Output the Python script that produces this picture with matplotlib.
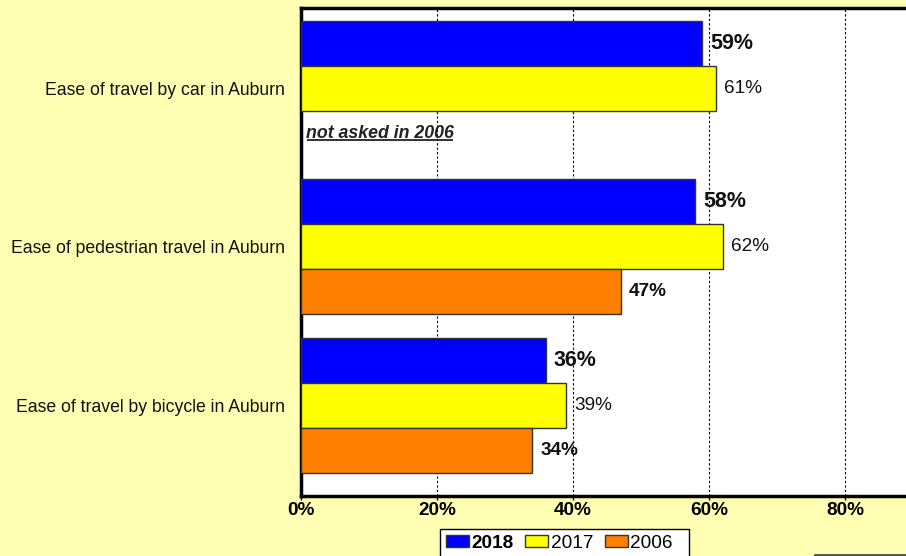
import numpy as np
import matplotlib.pyplot as plt
from matplotlib.patches import Rectangle

plt.rcParams['font.family'] = ['Liberation Sans', 'DejaVu Sans']

# Survey results, share answering good/excellent
categories = ['Ease of travel by car in Auburn',
              'Ease of pedestrian travel in Auburn',
              'Ease of travel by bicycle in Auburn']
years = ['2018', '2017', '2006']
vals_2018 = [0.59, 0.58, 0.36]
vals_2017 = [0.61, 0.62, 0.39]
vals_2006 = [None, 0.47, 0.34]   # car item not asked in 2006
colors = ['#0000FF', '#FFFF00', '#FF8000']
xticks = [0, 0.2, 0.4, 0.6, 0.8]
bg = '#FFFFB3'

fig = plt.figure(figsize=(9.06, 5.56), dpi=100, facecolor=bg)
# plot area runs to 100% past the right edge of the image
ax = fig.add_axes([301 / 906, 1 - 496 / 556, 680 / 906, 488.5 / 556])
ax.set_facecolor('white')
ax.set_xlim(0, 1.0)
ax.set_ylim(2.571, -0.508)

y = np.arange(len(categories))
h = 0.284
offsets = [-h, 0, h]
series = [vals_2018, vals_2017, vals_2006]
label_font = [dict(fontsize=15.5, fontweight='bold'),
              dict(fontsize=13.7, fontweight='normal'),
              dict(fontsize=13.7, fontweight='bold')]

for s, (vals, off, col, fnt) in enumerate(zip(series, offsets, colors, label_font)):
    for i, v in enumerate(vals):
        if v is None:
            continue
        ax.barh(y[i] + off, v, height=h, color=col, edgecolor='#333333',
                linewidth=1.0, zorder=3, label=years[s] if i == 1 else None)
        ax.annotate('{:.0f}%'.format(v * 100), xy=(v, y[i] + off),
                    xytext=(8, 0), textcoords='offset pixels',
                    ha='left', va='center', color='#111111', zorder=4, **fnt)

ax.set_xlim(0, 1.0)
ax.set_ylim(2.571, -0.508)

# note for the car item, underlined
t = ax.text(0.007, y[0] + h, 'not asked in 2006', ha='left', va='center',
            fontsize=12.8, fontweight='bold', fontstyle='italic',
            color='#222222', zorder=4)
fig.canvas.draw()
bb = t.get_window_extent()
ul_y = bb.y0 + 1.5
x0, y0 = ax.transData.inverted().transform((bb.x0 + 1, ul_y))
x1, _ = ax.transData.inverted().transform((bb.x1 - 1, ul_y))
ax.plot([x0, x1], [y0, y0], color='#222222', lw=1.3, zorder=4,
        solid_capstyle='butt')
ax.set_xlim(0, 1.0)
ax.set_ylim(2.571, -0.508)

ax.set_yticks(y)
ax.set_yticklabels(categories, fontsize=12.7, color='#111111')
ax.tick_params(axis='y', length=0, pad=11.5)

ax.set_xticks(xticks)
ax.set_xticklabels(['{:.0f}%'.format(x * 100) for x in xticks],
                   fontsize=13.7, fontweight='bold')
ax.tick_params(axis='x', length=3, width=1, pad=1, direction='out')
ax.xaxis.grid(True, color='black', linestyle=(0, (2, 2)), linewidth=0.8, zorder=0)
ax.axvline(1.0, color='black', linestyle=(0, (2, 2)), linewidth=0.8, zorder=0)
ax.set_axisbelow(True)

for side in ['left', 'top', 'bottom']:
    ax.spines[side].set_linewidth(2.5)
    ax.spines[side].set_color('black')
ax.spines['right'].set_visible(False)

leg = fig.legend(loc='upper left', bbox_to_anchor=(440 / 906, 1 - 529 / 556),
                 ncol=3, fontsize=13.7, frameon=True, fancybox=False,
                 edgecolor='black', facecolor='white', framealpha=1,
                 handlelength=1.2, handleheight=0.65, handletextpad=0.15,
                 columnspacing=0.6, borderpad=0.3, borderaxespad=0)
leg.get_frame().set_linewidth(1.0)
leg.get_texts()[0].set_fontweight('bold')
leg.get_texts()[2].set_text('2006  ')

# partly visible box in the lower right corner
fig.patches.append(Rectangle((815 / 906, -0.05), 0.2, 0.05 + 1.5 / 556,
                             transform=fig.transFigure, facecolor=bg,
                             edgecolor='#505050', linewidth=2))

fig.savefig('out.png', dpi=100, facecolor=bg)
